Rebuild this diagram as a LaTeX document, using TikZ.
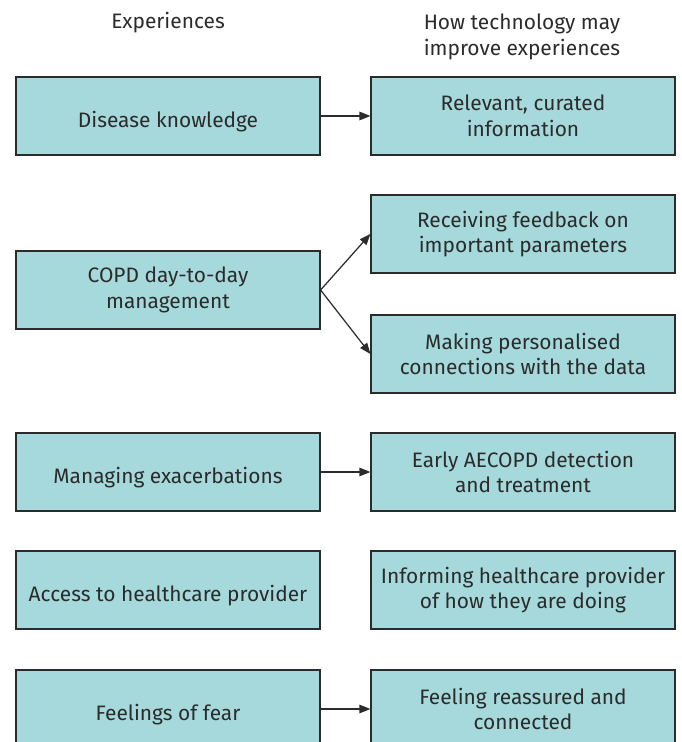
\documentclass[tikz,border=0pt]{standalone}
\usepackage{fontspec}
\setmainfont{Fira Sans}
\usepackage{tikz}
\usetikzlibrary{arrows.meta}
\definecolor{boxfill}{HTML}{A6D9DC}
\definecolor{boxline}{HTML}{2B2B2B}

\begin{document}
\begin{tikzpicture}[x=0.02cm, y=-0.02cm, every node/.style={font=\fontsize{11.9}{14.7}\selectfont,
                                  text=boxline, align=center},
                      box/.style={draw=boxline, fill=boxfill, line width=0.7pt,
                                  minimum width=6.08cm, minimum height=1.56cm, inner sep=0pt,
                                  execute at begin node={\rule{0pt}{1.35em}}},
                      link/.style={draw=boxline, line width=0.7pt, -{Triangle[length=0.22cm, width=0.17cm]}}]
                      \useasboundingbox (0,0) rectangle (681,742);
                      \node (H1) at (168,23) {Experiences};
                      \node (H2) at (522,37) {How technology may\\improve experiences};

                      \foreach \n/\y/\t in {E1/116/{Disease knowledge}, E2/290/{COPD day-to-day\\management},
                              E3/472/{Managing exacerbations}, E4/590/{Access to healthcare provider},
                              E5/709/{Feelings of fear}} {
                              \node[box] (\n) at (168,\y) {\t};
                          }

                      \foreach \n/\y/\t in {T1/116/{Relevant, curated\\information}, T2/234/{Receiving feedback on\\important parameters},
                              T3/354/{Making personalised\\connections with the data}, T4/472/{Early AECOPD detection\\and treatment},
                              T5/590/{Informing healthcare provider\\of how they are doing},
                              T6/709/{Feeling reassured and\\connected}} {
                              \node[box] (\n) at (523,\y) {\t};
                          }

                      \foreach \i/\j in {E1/T1, E2/T2, E2/T3, E3/T4, E5/T6} {
                              \draw[link] (\i.east) -- (\j.west);
                          }
                  \end{tikzpicture}
\end{document}
